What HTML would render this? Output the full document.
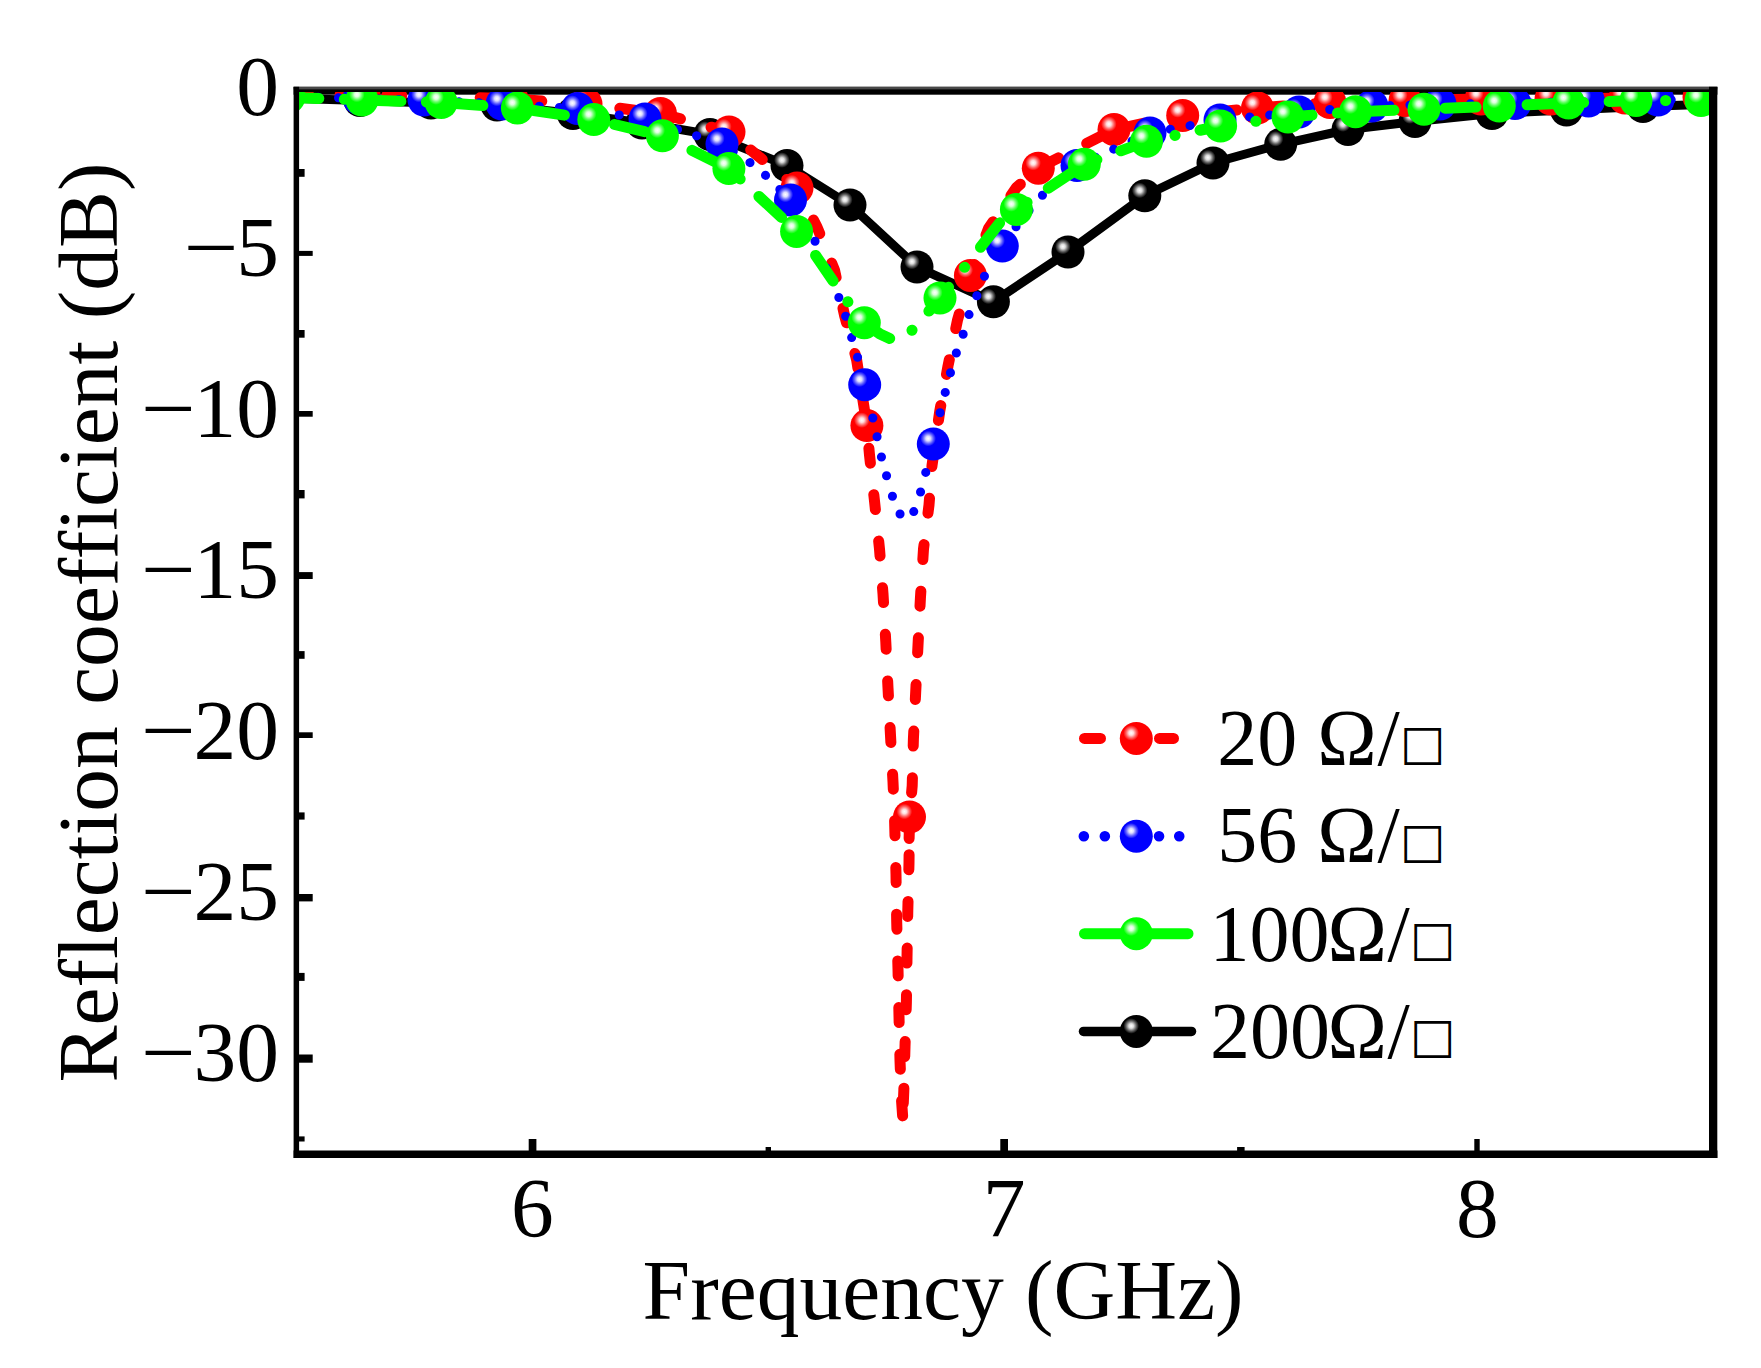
<!DOCTYPE html>
<html><head><meta charset="utf-8"><title>Reflection coefficient</title>
<style>html,body{margin:0;padding:0;background:#fff}svg{display:block}text{font-family:"Liberation Serif",serif;fill:#000}</style></head><body>
<svg width="1761" height="1368" viewBox="0 0 1761 1368">
<defs>
<radialGradient id="gk" cx="0.345" cy="0.335" r="0.235"><stop offset="0" stop-color="#fff"/><stop offset="0.3" stop-color="#ddd"/><stop offset="0.65" stop-color="#666"/><stop offset="1" stop-color="#000"/></radialGradient>
<radialGradient id="gr" cx="0.345" cy="0.335" r="0.235"><stop offset="0" stop-color="#fff"/><stop offset="0.3" stop-color="#fdd"/><stop offset="0.65" stop-color="#f66"/><stop offset="1" stop-color="#f00"/></radialGradient>
<radialGradient id="gb" cx="0.345" cy="0.335" r="0.235"><stop offset="0" stop-color="#fff"/><stop offset="0.3" stop-color="#ddf"/><stop offset="0.65" stop-color="#66f"/><stop offset="1" stop-color="#00f"/></radialGradient>
<radialGradient id="gg" cx="0.345" cy="0.335" r="0.235"><stop offset="0" stop-color="#fff"/><stop offset="0.3" stop-color="#dfd"/><stop offset="0.65" stop-color="#6f6"/><stop offset="1" stop-color="#0f0"/></radialGradient>
<clipPath id="plot"><rect x="299" y="92" width="1410" height="1059"/></clipPath>
</defs>
<rect width="1761" height="1368" fill="#fff"/>
<rect x="293.6" y="86.8" width="1423.8" height="7.9" fill="#000"/>
<rect x="293.6" y="86.8" width="1423.8" height="2.6" fill="#484848"/>
<g clip-path="url(#plot)" fill="none" stroke-linejoin="round">
<path d="M285.0,98.0 L360.0,100.5 L431.0,103.0 L497.0,105.0 L573.0,113.5 L642.0,123.0 L710.0,134.5 L787.0,165.5 L850.0,205.0 L917.0,267.0 L993.4,301.8 L1068.0,252.0 L1144.8,195.8 L1213.0,163.0 L1280.7,144.3 L1348.0,129.5 L1415.0,121.5 L1492.0,113.5 L1566.5,110.0 L1643.0,106.5 L1720.0,104.0" stroke="#000" stroke-width="9"/>
<circle cx="360.0" cy="100.5" r="16.5" fill="url(#gk)"/><circle cx="431.0" cy="103.0" r="16.5" fill="url(#gk)"/><circle cx="497.0" cy="105.0" r="16.5" fill="url(#gk)"/><circle cx="573.0" cy="113.5" r="16.5" fill="url(#gk)"/><circle cx="642.0" cy="123.0" r="16.5" fill="url(#gk)"/><circle cx="710.0" cy="134.5" r="16.5" fill="url(#gk)"/><circle cx="787.0" cy="165.5" r="16.5" fill="url(#gk)"/><circle cx="850.0" cy="205.0" r="16.5" fill="url(#gk)"/><circle cx="917.0" cy="267.0" r="16.5" fill="url(#gk)"/><circle cx="993.4" cy="301.8" r="16.5" fill="url(#gk)"/><circle cx="1068.0" cy="252.0" r="16.5" fill="url(#gk)"/><circle cx="1144.8" cy="195.8" r="16.5" fill="url(#gk)"/><circle cx="1213.0" cy="163.0" r="16.5" fill="url(#gk)"/><circle cx="1280.7" cy="144.3" r="16.5" fill="url(#gk)"/><circle cx="1348.0" cy="129.5" r="16.5" fill="url(#gk)"/><circle cx="1415.0" cy="121.5" r="16.5" fill="url(#gk)"/><circle cx="1492.0" cy="113.5" r="16.5" fill="url(#gk)"/><circle cx="1566.5" cy="110.0" r="16.5" fill="url(#gk)"/><circle cx="1643.0" cy="106.5" r="16.5" fill="url(#gk)"/>
<path d="M285.0,94.0 L364.0,95.0 L438.0,96.0 L512.0,99.0 L586.0,104.0 L660.5,113.5 L729.0,132.0 L797.0,188.0" stroke="#f00" stroke-width="11" stroke-linecap="round" stroke-dasharray="15 31.7" stroke-dashoffset="38.27"/>
<path d="M797.0,188.0 L817.0,227.0 L834.5,270.0 L844.7,316.0 L856.6,359.7 L866.9,425.6" stroke="#f00" stroke-width="11" stroke-linecap="round" stroke-dasharray="15 31.7" stroke-dashoffset="10.65"/>
<path d="M866.9,425.6 L869.5,455.0 L874.5,501.0 L879.5,549.0 L883.0,593.8 L885.8,642.0 L888.0,688.0 L890.5,735.4 L893.0,782.0 L894.5,817.0 L896.0,874.4 L896.7,921.7 L898.0,969.0 L899.0,1016.0 L900.0,1060.5 L901.5,1100.0 L902.7,1117.0" stroke="#f00" stroke-width="11" stroke-linecap="round" stroke-dasharray="15 31.7" stroke-dashoffset="24.00"/>
<path d="M902.7,1117.0 L903.8,1091.0 L905.0,1046.7 L906.4,1002.0 L907.0,957.8 L907.8,910.5 L909.0,863.0 L909.5,817.0" stroke="#f00" stroke-width="11" stroke-linecap="round" stroke-dasharray="15 31.7" stroke-dashoffset="32.83"/>
<path d="M909.5,817.0 L912.2,785.7 L913.4,739.0 L915.7,692.0 L918.0,645.3 L920.4,598.5 L923.5,549.0 L929.0,505.0 L932.0,465.6 L939.7,411.5 L948.0,366.0 L957.6,319.7 L970.4,275.4" stroke="#f00" stroke-width="11" stroke-linecap="round" stroke-dasharray="15 31.7" stroke-dashoffset="22.36"/>
<path d="M970.4,275.4 L988.7,228.0 L1016.4,187.7 L1038.3,168.2 L1114.0,129.5 L1182.7,115.4 L1257.5,108.0 L1330.0,102.5 L1405.0,100.5 L1481.0,99.0 L1551.0,99.0 L1625.0,98.0 L1699.0,97.0 L1720.0,97.0" stroke="#f00" stroke-width="11" stroke-linecap="round" stroke-dasharray="15 31.7" stroke-dashoffset="3.39"/>
<path d="M909.4,828L909.1,838.5" stroke="#f00" stroke-width="11" stroke-linecap="round"/>
<circle cx="364.0" cy="95.0" r="16.5" fill="url(#gr)"/><circle cx="438.0" cy="96.0" r="16.5" fill="url(#gr)"/><circle cx="512.0" cy="99.0" r="16.5" fill="url(#gr)"/><circle cx="586.0" cy="104.0" r="16.5" fill="url(#gr)"/><circle cx="660.5" cy="113.5" r="16.5" fill="url(#gr)"/><circle cx="729.0" cy="132.0" r="16.5" fill="url(#gr)"/><circle cx="797.0" cy="188.0" r="16.5" fill="url(#gr)"/><circle cx="866.9" cy="425.6" r="16.5" fill="url(#gr)"/><circle cx="909.5" cy="817.0" r="16.5" fill="url(#gr)"/><circle cx="970.4" cy="275.4" r="16.5" fill="url(#gr)"/><circle cx="1038.3" cy="168.2" r="16.5" fill="url(#gr)"/><circle cx="1114.0" cy="129.5" r="16.5" fill="url(#gr)"/><circle cx="1182.7" cy="115.4" r="16.5" fill="url(#gr)"/><circle cx="1257.5" cy="108.0" r="16.5" fill="url(#gr)"/><circle cx="1330.0" cy="102.5" r="16.5" fill="url(#gr)"/><circle cx="1405.0" cy="100.5" r="16.5" fill="url(#gr)"/><circle cx="1481.0" cy="99.0" r="16.5" fill="url(#gr)"/><circle cx="1551.0" cy="99.0" r="16.5" fill="url(#gr)"/><circle cx="1625.0" cy="98.0" r="16.5" fill="url(#gr)"/><circle cx="1699.0" cy="97.0" r="16.5" fill="url(#gr)"/>
<path d="M285.0,96.0 L359.0,98.5 L424.0,100.0 L502.0,104.0 L577.5,108.5 L645.0,119.0 L722.0,144.0 L750.0,162.6 L765.6,175.4 L790.5,200.0" stroke="#00f" stroke-width="9" stroke-linecap="round" stroke-dasharray="0.1 20" stroke-dashoffset="6.77"/>
<path d="M815.0,241.3h0.1M826.5,268.0h0.1M838.8,297.5h0.1M845.6,316.3h0.1M851.6,337.6h0.1M857.5,357.2h0.1M864.7,384.7h0.1M872.8,418.0h0.1M877.0,436.7h0.1M881.4,457.0h0.1M886.5,475.8h0.1M892.4,496.3h0.1M900.0,514.0h0.1M913.7,511.6h0.1M920.5,492.0h0.1M925.7,472.4h0.1M933.3,444.0h0.1M940.0,412.8h0.1M945.2,392.4h0.1M950.4,372.8h0.1M956.3,353.0h0.1M963.1,334.2h0.1M969.0,314.6h0.1M976.8,295.8h0.1M984.4,276.3h0.1M1002.3,246.0h0.1M1016.0,226.8h0.1M1029.0,210.5h0.1M1042.4,195.3h0.1M1058.0,181.0h0.1" stroke="#00f" stroke-width="9" stroke-linecap="round"/>
<path d="M1077.0,165.5 L1150.0,133.0 L1220.0,120.0 L1299.0,112.0 L1372.0,106.0 L1440.0,104.0 L1515.0,103.5 L1588.5,101.0 L1658.0,100.0 L1720.0,99.0" stroke="#00f" stroke-width="9" stroke-linecap="round" stroke-dasharray="0.1 20" stroke-dashoffset="0.00"/>
<circle cx="359.0" cy="98.5" r="16.5" fill="url(#gb)"/><circle cx="424.0" cy="100.0" r="16.5" fill="url(#gb)"/><circle cx="502.0" cy="104.0" r="16.5" fill="url(#gb)"/><circle cx="577.5" cy="108.5" r="16.5" fill="url(#gb)"/><circle cx="645.0" cy="119.0" r="16.5" fill="url(#gb)"/><circle cx="722.0" cy="144.0" r="16.5" fill="url(#gb)"/><circle cx="790.5" cy="200.0" r="16.5" fill="url(#gb)"/><circle cx="864.7" cy="384.7" r="16.5" fill="url(#gb)"/><circle cx="933.3" cy="444.0" r="16.5" fill="url(#gb)"/><circle cx="1002.3" cy="246.0" r="16.5" fill="url(#gb)"/><circle cx="1077.0" cy="165.5" r="16.5" fill="url(#gb)"/><circle cx="1150.0" cy="133.0" r="16.5" fill="url(#gb)"/><circle cx="1220.0" cy="120.0" r="16.5" fill="url(#gb)"/><circle cx="1299.0" cy="112.0" r="16.5" fill="url(#gb)"/><circle cx="1372.0" cy="106.0" r="16.5" fill="url(#gb)"/><circle cx="1440.0" cy="104.0" r="16.5" fill="url(#gb)"/><circle cx="1515.0" cy="103.5" r="16.5" fill="url(#gb)"/><circle cx="1588.5" cy="101.0" r="16.5" fill="url(#gb)"/><circle cx="1658.0" cy="100.0" r="16.5" fill="url(#gb)"/>
<path d="M280.0,97.0 L362.0,100.0 L441.2,102.5 L517.4,108.0 L593.8,119.6 L662.4,135.8 L728.9,168.6 L796.6,231.4 L812.4,250.7 L836.2,285.6 L848.0,302.0 L864.3,322.7 L880.0,334.0 L892.0,339.5 L899.0,339.5 L913.7,329.0 L940.0,298.0 L978.5,249.8 L999.8,222.6 L1016.4,209.4" stroke="#0f0" stroke-width="11" stroke-linecap="round" stroke-dasharray="31 25.5 0.1 25.5" stroke-dashoffset="74.23"/>
<path d="M1016.4,209.4 L1084.3,164.3 L1146.5,141.3 L1220.6,126.0 L1288.0,117.0 L1355.5,111.7 L1424.0,109.2 L1499.3,106.0 L1568.6,103.0 L1636.0,100.5 L1701.0,100.5 L1720.0,100.5" stroke="#0f0" stroke-width="11" stroke-linecap="round" stroke-dasharray="31 25.5 0.1 25.5" stroke-dashoffset="43.79"/>
<circle cx="289.0" cy="97.0" r="16.5" fill="url(#gg)"/><circle cx="362.0" cy="100.0" r="16.5" fill="url(#gg)"/><circle cx="441.2" cy="102.5" r="16.5" fill="url(#gg)"/><circle cx="517.4" cy="108.0" r="16.5" fill="url(#gg)"/><circle cx="593.8" cy="119.6" r="16.5" fill="url(#gg)"/><circle cx="662.4" cy="135.8" r="16.5" fill="url(#gg)"/><circle cx="728.9" cy="168.6" r="16.5" fill="url(#gg)"/><circle cx="796.6" cy="231.4" r="16.5" fill="url(#gg)"/><circle cx="864.3" cy="322.7" r="16.5" fill="url(#gg)"/><circle cx="940.0" cy="298.0" r="16.5" fill="url(#gg)"/><circle cx="1016.4" cy="209.4" r="16.5" fill="url(#gg)"/><circle cx="1084.3" cy="164.3" r="16.5" fill="url(#gg)"/><circle cx="1146.5" cy="141.3" r="16.5" fill="url(#gg)"/><circle cx="1220.6" cy="126.0" r="16.5" fill="url(#gg)"/><circle cx="1288.0" cy="117.0" r="16.5" fill="url(#gg)"/><circle cx="1355.5" cy="111.7" r="16.5" fill="url(#gg)"/><circle cx="1424.0" cy="109.2" r="16.5" fill="url(#gg)"/><circle cx="1499.3" cy="106.0" r="16.5" fill="url(#gg)"/><circle cx="1568.6" cy="103.0" r="16.5" fill="url(#gg)"/><circle cx="1636.0" cy="100.5" r="16.5" fill="url(#gg)"/><circle cx="1701.0" cy="100.5" r="16.5" fill="url(#gg)"/>
</g>
<g fill="#000">
<rect x="293.6" y="86.8" width="5.5" height="1071.2"/>
<rect x="1709" y="86.8" width="8.3" height="1071.2"/>
<rect x="293.6" y="1150.5" width="1423.8" height="7.5"/>
<rect x="299" y="250.9" width="13.7" height="5.0"/>
<rect x="299" y="411" width="13.7" height="5.7"/>
<rect x="299" y="572.1" width="13.7" height="6.9"/>
<rect x="299" y="732.3" width="13.7" height="5.7"/>
<rect x="299" y="894" width="13.7" height="7.4"/>
<rect x="299" y="1054.5" width="13.7" height="8.2"/>
<rect x="299" y="169" width="5.6" height="7.8"/>
<rect x="299" y="330" width="5.6" height="7.7"/>
<rect x="299" y="490" width="5.6" height="8.4"/>
<rect x="299" y="651.1" width="5.6" height="7.7"/>
<rect x="299" y="812.4" width="5.6" height="7.2"/>
<rect x="299" y="972.9" width="5.6" height="8.0"/>
<rect x="299" y="1136.4" width="5.6" height="5.1"/>
<rect x="528.7" y="1139" width="7.7" height="12"/>
<rect x="1000.3" y="1139" width="7.7" height="12"/>
<rect x="1474.3" y="1139" width="5.4" height="12"/>
<rect x="765.6" y="1147" width="5.4" height="4"/>
<rect x="1237.1" y="1147" width="7.5" height="4"/>
</g>
<g font-size="85.5">
<text x="279" y="115.4" text-anchor="end">0</text>
<text y="276.4"><tspan x="183.6" textLength="55" lengthAdjust="spacingAndGlyphs">−</tspan><tspan x="279" text-anchor="end">5</tspan></text>
<text y="437.4"><tspan x="140.8" textLength="55" lengthAdjust="spacingAndGlyphs">−</tspan><tspan x="279" text-anchor="end">10</tspan></text>
<text y="598.4"><tspan x="140.8" textLength="55" lengthAdjust="spacingAndGlyphs">−</tspan><tspan x="279" text-anchor="end">15</tspan></text>
<text y="759.4"><tspan x="140.8" textLength="55" lengthAdjust="spacingAndGlyphs">−</tspan><tspan x="279" text-anchor="end">20</tspan></text>
<text y="920.4"><tspan x="140.8" textLength="55" lengthAdjust="spacingAndGlyphs">−</tspan><tspan x="279" text-anchor="end">25</tspan></text>
<text y="1081.4"><tspan x="140.8" textLength="55" lengthAdjust="spacingAndGlyphs">−</tspan><tspan x="279" text-anchor="end">30</tspan></text>
<text x="532.3" y="1236.8" text-anchor="middle">6</text>
<text x="1004.2" y="1236.8" text-anchor="middle">7</text>
<text x="1477.3" y="1236.8" text-anchor="middle">8</text>
<text x="642.6" y="1319.3" textLength="601" lengthAdjust="spacing">Frequency (GHz)</text>
<text transform="translate(116.6,1082.5) rotate(-90)" textLength="920" lengthAdjust="spacing">Reflection coefficient (dB)</text>
</g>
<g fill="none" stroke-linecap="round">
<path d="M1084.5,738.4H1100.5M1159.5,738.4H1173.5" stroke="#f00" stroke-width="11"/>
<path d="M1083.8,836.2h0.1M1104.8,836.2h0.1M1159,836.2h0.1M1179.2,836.2h0.1" stroke="#00f" stroke-width="10.5"/>
<path d="M1084.5,933.7H1188" stroke="#0f0" stroke-width="11"/>
<path d="M1083.5,1031.4H1191.5" stroke="#000" stroke-width="9.5"/>
</g>
<circle cx="1136.3" cy="738.4" r="16.5" fill="url(#gr)"/>
<circle cx="1136.3" cy="836.2" r="16.5" fill="url(#gb)"/>
<circle cx="1136.3" cy="933.7" r="16.5" fill="url(#gg)"/>
<circle cx="1136.3" cy="1031.4" r="16.5" fill="url(#gk)"/>
<g font-size="80">
<text y="764.6"><tspan x="1217.3">20</tspan><tspan x="1317.2">Ω</tspan><tspan x="1377.5">/</tspan><tspan font-family="DejaVu Sans,sans-serif" font-size="48" x="1400" dy="-5.7">□</tspan></text>
<text y="862.4"><tspan x="1217.3">56</tspan><tspan x="1317.2">Ω</tspan><tspan x="1377.5">/</tspan><tspan font-family="DejaVu Sans,sans-serif" font-size="48" x="1400" dy="-5.7">□</tspan></text>
<text y="960.9"><tspan x="1209.6">100</tspan><tspan x="1327.6">Ω</tspan><tspan x="1387.5">/</tspan><tspan font-family="DejaVu Sans,sans-serif" font-size="48" x="1410" dy="-5.7">□</tspan></text>
<text y="1057.7"><tspan x="1210.1">200</tspan><tspan x="1327.6">Ω</tspan><tspan x="1387.5">/</tspan><tspan font-family="DejaVu Sans,sans-serif" font-size="48" x="1410" dy="-5.7">□</tspan></text>
</g>
</svg></body></html>
